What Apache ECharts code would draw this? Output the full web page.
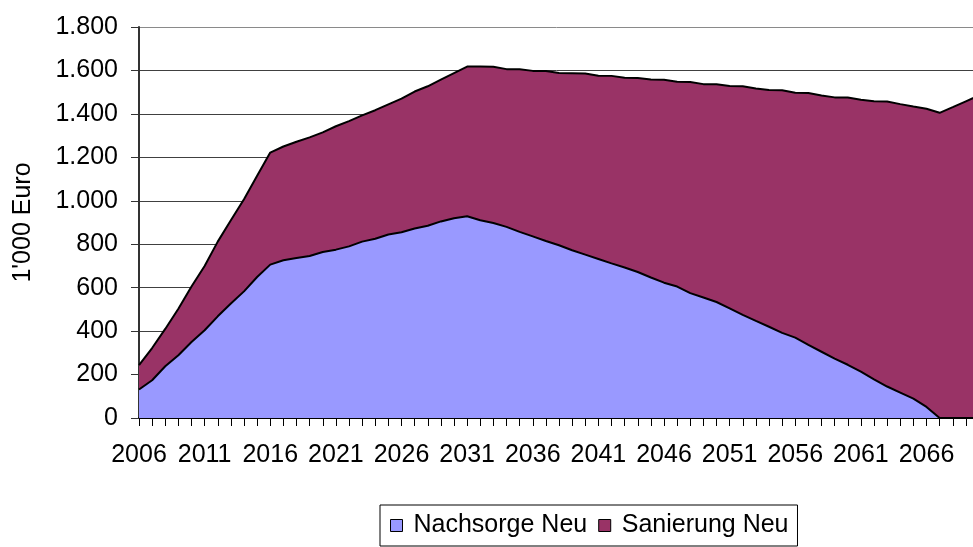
<!DOCTYPE html>
<html><head><meta charset="utf-8">
<script src="https://cdn.jsdelivr.net/npm/echarts@6/dist/echarts.min.js"></script>
<style>html,body{margin:0;padding:0;background:#fff}#c{width:973px;height:547px}</style>
</head><body><div id="c"></div>
<script>
const years = ['2006','2007','2008','2009','2010','2011','2012','2013','2014','2015',
  '2016','2017','2018','2019','2020','2021','2022','2023','2024','2025',
  '2026','2027','2028','2029','2030','2031','2032','2033','2034','2035',
  '2036','2037','2038','2039','2040','2041','2042','2043','2044','2045',
  '2046','2047','2048','2049','2050','2051','2052','2053','2054','2055',
  '2056','2057','2058','2059','2060','2061','2062','2063','2064','2065',
  '2066','2067','2068','2069','2070'];
const nachsorgeNeu = [131,174,238,289,350,404,468,527,583,649,
  706,726,737,746,764,775,790,812,825,845,
  855,872,885,905,920,929,910,898,880,857,
  836,815,795,772,752,732,712,693,672,647,
  623,605,575,555,534,505,475,447,420,392,
  370,337,305,273,245,213,178,145,117,89,
  51,0,0,0,0];
const sanierungNeu = [112,148,172,214,255,296,344,383,424,466,
  516,524,535,546,551,568,577,581,592,599,
  615,631,642,653,668,689,708,719,726,749,
  762,782,793,815,834,844,863,873,893,911,
  934,943,972,982,1002,1023,1052,1070,1090,1117,
  1127,1159,1180,1203,1230,1252,1280,1312,1328,1345,
  1373,1405,1431,1458,1485];
const seriesNames = ['Nachsorge Neu', 'Sanierung Neu'];
const yAxisTitle = "1'000 Euro";
const yMin = 0, yMax = 1800, yStep = 200;

const FONT = '"Liberation Sans", Arial, sans-serif';
const FS = 25;
const chart = echarts.init(document.getElementById('c'), null, {renderer: 'canvas'});
chart.setOption({
  animation: false,
  backgroundColor: '#fff',
  grid: {left: 139, top: 27, right: -6, bottom: 129, outerBoundsMode: 'none', containLabel: false},
  xAxis: {
    type: 'category', data: years, boundaryGap: false,
    axisLine: {lineStyle: {color: '#000', width: 2}},
    axisTick: {show: true, interval: 0, length: 8, lineStyle: {color: '#000', width: 1}},
    axisLabel: {interval: 4, margin: 25, color: '#000', fontSize: FS, fontFamily: FONT},
    splitLine: {show: false}
  },
  yAxis: {
    type: 'value', min: yMin, max: yMax, interval: yStep,
    name: yAxisTitle, nameLocation: 'middle', nameRotate: 90, nameGap: 103,
    nameTextStyle: {color: '#000', fontSize: FS, fontFamily: FONT},
    axisLine: {show: true, lineStyle: {color: '#333', width: 2}},
    axisTick: {show: true, length: 8, lineStyle: {color: '#333', width: 1}},
    axisLabel: {
      margin: 21, color: '#000', fontSize: FS, fontFamily: FONT,
      formatter: v => String(v).replace(/\B(?=(\d{3})+(?!\d))/g, '.')
    },
    splitLine: {show: true, lineStyle: {color: ['#404040','#404040','#404040','#404040','#404040','#404040','#404040','#404040','#404040','#8a8a8a'], width: 1}}
  },
  legend: {
    left: 380, top: 505, orient: 'horizontal',
    padding: [8, 9, 8, 10], itemGap: 11,
    borderColor: '#000', borderWidth: 1, backgroundColor: '#fff',
    icon: 'rect', itemWidth: 12, itemHeight: 12,
    itemStyle: {borderColor: '#000', borderWidth: 1},
    textStyle: {color: '#000', fontSize: FS, fontFamily: FONT, padding: [0, 0, 0, 6]},
    data: seriesNames
  },
  series: [
    {name: seriesNames[0], type: 'line', stack: 'tot', data: nachsorgeNeu, symbol: 'none', z: 3,
     lineStyle: {color: '#000', width: 2}, itemStyle: {color: '#9999FF'},
     areaStyle: {color: '#9999FF', opacity: 1}},
    {name: seriesNames[1], type: 'line', stack: 'tot', data: sanierungNeu, symbol: 'none', z: 2,
     lineStyle: {color: '#000', width: 2}, itemStyle: {color: '#993366'},
     areaStyle: {color: '#993366', opacity: 1}}
  ]
});
</script></body></html>
